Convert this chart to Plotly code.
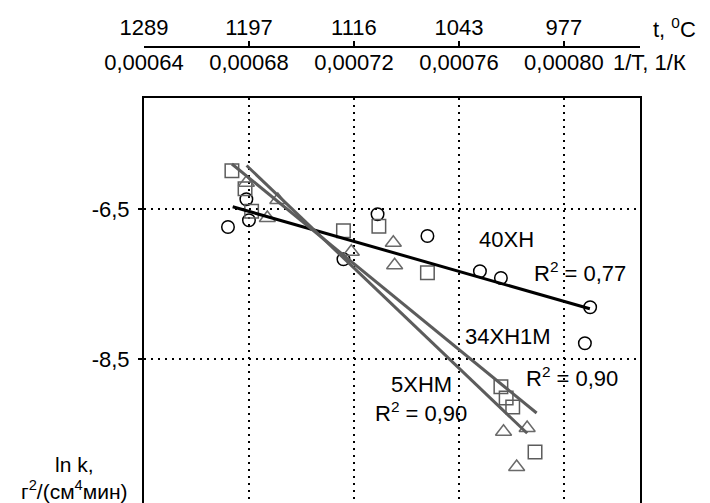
import plotly.graph_objects as go

# ---------------- data (x = 1/T, 1/K ; y = ln k) ----------------
x_40 = [0.000672, 0.000679, 0.000680, 0.000716, 0.000729, 0.000748, 0.000768, 0.000776, 0.000810, 0.000808]
y_40 = [-6.74, -6.37, -6.65, -7.17, -6.57, -6.86, -7.33, -7.42, -7.81, -8.29]

x_34 = [0.0006735, 0.0006785, 0.000681, 0.000716, 0.0007295, 0.000748, 0.000776, 0.000778, 0.0007805, 0.000789]
y_34 = [-5.99, -6.23, -6.53, -6.79, -6.73, -7.35, -8.87, -9.02, -9.14, -9.74]

x_5 = [0.000679, 0.000687, 0.000691, 0.000719, 0.000735, 0.0007355, 0.000777, 0.000786, 0.000782]
y_5 = [-6.15, -6.62, -6.38, -7.07, -6.95, -7.25, -9.47, -9.42, -9.94]

# trend lines (end points)
trend_x_40 = [0.0006738, 0.0008099]
trend_y_40 = [-6.47, -7.83]
trend_x_34 = [0.0006735, 0.0007896]
trend_y_34 = [-5.90, -9.22]
trend_x_5 = [0.0006791, 0.000786]
trend_y_5 = [-5.92, -9.49]

# axis ticks
inv_t_ticks = [0.00064, 0.00068, 0.00072, 0.00076, 0.00080]
inv_t_labels = ["0,00064", "0,00068", "0,00072", "0,00076", "0,00080"]
temp_labels = ["1289", "1197", "1116", "1043", "977"]
grid_x = [0.00068, 0.00072, 0.00076, 0.00080]
y_ticks = [-6.5, -8.5]
y_labels = ["-6,5", "-8,5"]

# ---------------- layout helpers ----------------
OFF = 8  # page body margin
W, H = 702, 495
ML, MR, MT, MB = 136, 70, 20, 0
PW, PH = W - ML - MR, H - MT - MB


def px(xp):
    """page x pixel -> paper fraction"""
    return (xp - OFF - ML) / PW


def py(yp):
    """page y pixel -> paper fraction"""
    return (H - MB - (yp - OFF)) / PH


FONT = "Liberation Sans, Arial, sans-serif"
GREY = "#5c5c5c"

fig = go.Figure()

fig.add_trace(go.Scatter(x=x_40, y=y_40, mode="markers",
                         marker=dict(symbol="circle-open", size=12.5, color="black",
                                     line=dict(width=1.5, color="black"))))
fig.add_trace(go.Scatter(x=x_34, y=y_34, mode="markers",
                         marker=dict(symbol="square-open", size=13.5, color=GREY,
                                     line=dict(width=1.5, color=GREY))))
fig.add_trace(go.Scatter(x=x_5, y=y_5, mode="markers",
                         marker=dict(symbol="triangle-up-open", size=14, color="#6a6a6a",
                                     line=dict(width=1.5, color="#6a6a6a"))))

fig.add_trace(go.Scatter(x=trend_x_40, y=trend_y_40, mode="lines",
                         line=dict(color="black", width=3)))
fig.add_trace(go.Scatter(x=trend_x_34, y=trend_y_34, mode="lines",
                         line=dict(color=GREY, width=3)))
fig.add_trace(go.Scatter(x=trend_x_5, y=trend_y_5, mode="lines",
                         line=dict(color=GREY, width=3)))

# dummy traces so the free top axes are drawn
fig.add_trace(go.Scatter(x=inv_t_ticks, y=[None] * len(inv_t_ticks), xaxis="x2",
                         mode="markers", hoverinfo="skip"))
fig.add_trace(go.Scatter(x=inv_t_ticks, y=[None] * len(inv_t_ticks), xaxis="x3",
                         mode="markers", hoverinfo="skip"))

XR = [0.00064, 0.000829]
YR = [-10.42, -5.02]
y_top = py(98)
axis_pos = py(47)
TICKF = dict(family=FONT, size=22, color="black")

fig.update_layout(
    width=W, height=H,
    margin=dict(l=ML, r=MR, t=MT, b=MB, autoexpand=False),
    paper_bgcolor="white", plot_bgcolor="white",
    showlegend=False, hovermode=False,
    font=dict(family=FONT, size=22, color="black"),
    xaxis=dict(range=XR, side="top", showline=True, linecolor="black", linewidth=2,
               mirror=False, showticklabels=False, ticks="",
               tickvals=grid_x, showgrid=True, gridcolor="black", gridwidth=2,
               griddash="2px,5px", zeroline=False),
    yaxis=dict(range=YR, domain=[0, y_top], showline=True, linecolor="black",
               linewidth=2, mirror=True, tickvals=y_ticks, ticktext=y_labels,
               ticks="outside", ticklen=4, tickcolor="black", tickwidth=2,
               showgrid=True, gridcolor="black", gridwidth=2, griddash="2px,5px",
               zeroline=False, ticklabelstandoff=4, tickfont=TICKF),
    xaxis2=dict(range=XR, overlaying="x", anchor="free", position=axis_pos,
                side="bottom", showline=True, linecolor="black", linewidth=2,
                tickvals=inv_t_ticks, ticktext=inv_t_labels, ticks="inside",
                ticklen=5, tickwidth=2, tickcolor="black", showgrid=False,
                zeroline=False, ticklabelstandoff=-4, tickfont=TICKF),
    xaxis3=dict(range=XR, overlaying="x", anchor="free", position=axis_pos,
                side="top", showline=False, tickvals=inv_t_ticks,
                ticktext=temp_labels, ticks="", showgrid=False, zeroline=False,
                ticklabelstandoff=8, tickfont=TICKF),
)

ann_font = dict(family=FONT, size=22, color="black")
labels = [
    ("40ХН", 506, 239),
    ("R<sup>2</sup> = 0,77", 580, 272),
    ("34ХН1М", 508, 336),
    ("R<sup>2</sup> = 0,90", 572, 377),
    ("5ХНМ", 421, 384),
    ("R<sup>2</sup> = 0,90", 421, 412),
]
for text, ax, ay in labels:
    fig.add_annotation(text=text, x=px(ax), y=py(ay), xref="paper", yref="paper",
                       xanchor="center", yanchor="middle", showarrow=False, font=ann_font)

fig.add_annotation(text="t, <sup>0</sup>C", x=px(651), y=py(28), xref="paper", yref="paper",
                   xanchor="left", yanchor="middle", showarrow=False, font=TICKF)
fig.add_annotation(text="1/T, 1/К", x=px(611), y=py(62), xref="paper", yref="paper",
                   xanchor="left", yanchor="middle", showarrow=False, font=TICKF)
fig.add_annotation(text="ln k,<br>г<sup>2</sup>/(см<sup>4</sup>мин)", x=px(74), y=py(478),
                   xref="paper", yref="paper", xanchor="center", yanchor="middle",
                   showarrow=False, align="center",
                   font=dict(family=FONT, size=21, color="black"))

fig.write_html("out.html")
